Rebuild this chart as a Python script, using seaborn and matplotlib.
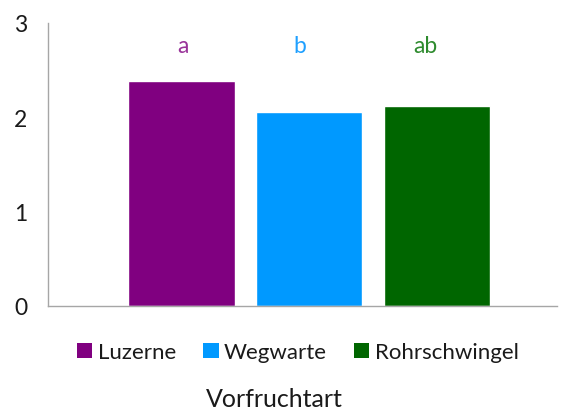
import pandas as pd
import matplotlib
matplotlib.use("Agg")
import matplotlib.pyplot as plt
from matplotlib.patches import Patch
import seaborn as sns

# Daten
vorfrucht = ["Luzerne", "Wegwarte", "Rohrschwingel"]
werte = [2.39, 2.06, 2.12]
buchstaben = ["a", "b", "ab"]
balken_farben = ["#800080", "#0099FF", "#006600"]
text_farben = ["#993399", "#1FA0FF", "#2E8B2E"]

df = pd.DataFrame({"Vorfrucht": vorfrucht, "Wert": werte})

sns.set_style("white")
plt.rcParams["font.family"] = ["Lato", "DejaVu Sans"]

fig = plt.figure(figsize=(5.63, 4.14), dpi=100)
ax = fig.add_axes([0.0853, 0.2585, 0.9041, 0.6836])

sns.barplot(
    data=df, x="Vorfrucht", y="Wert", hue="Vorfrucht",
    order=vorfrucht, hue_order=vorfrucht, palette=balken_farben,
    width=0.834, legend=False, saturation=1, ax=ax,
)

# Signifikanzbuchstaben ueber den Balken
verschiebung = [0.01, -0.07, -0.09]
for i, (b, f) in enumerate(zip(buchstaben, text_farben)):
    ax.text(i + verschiebung[i], 2.76, b, color=f, fontsize=16.5,
            ha="center", va="center")

ax.set_xlim(-1.044, 2.94)
ax.set_ylim(0, 3)
ax.set_yticks([0, 1, 2, 3])
ax.set_xticks([])
ax.set_xlabel("")
ax.set_ylabel("")
ax.tick_params(axis="y", length=8, width=1, color="#A6A6A6",
               labelsize=16.5, labelcolor="#1a1a1a", pad=7)

for s in ["top", "right"]:
    ax.spines[s].set_visible(False)
for s in ["left", "bottom"]:
    ax.spines[s].set_color("#A6A6A6")
    ax.spines[s].set_linewidth(1)

handles = [Patch(facecolor=c, edgecolor="none") for c in balken_farben]
fig.legend(handles, vorfrucht, loc="center", bbox_to_anchor=(0.529, 0.147),
           ncol=3, frameon=False, fontsize=16, handlelength=0.7,
           handleheight=0.7, handletextpad=0.25, columnspacing=1.2,
           labelcolor="#1a1a1a")

fig.text(0.487, 0.035, "Vorfruchtart", ha="center", va="center",
         fontsize=18, color="#1a1a1a")

fig.savefig("out.png", dpi=100)
